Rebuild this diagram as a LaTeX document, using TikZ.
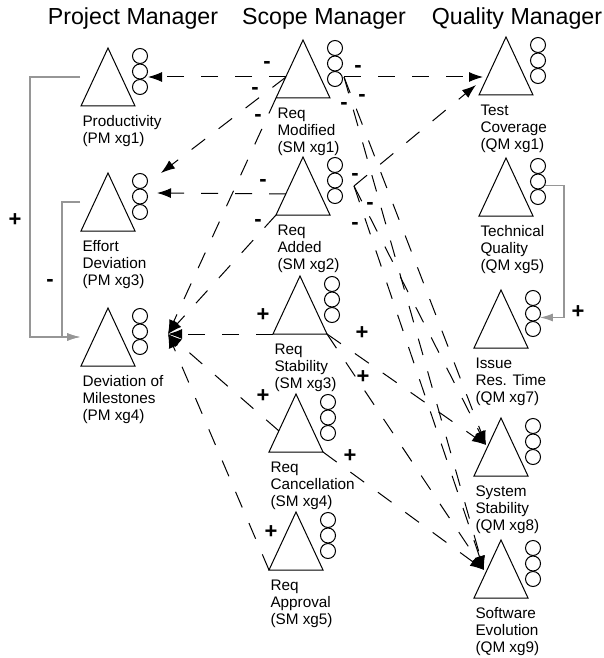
\documentclass[tikz,border=0pt]{standalone}
\usepackage{fontspec}
\setmainfont{Liberation Sans}
\usetikzlibrary{arrows.meta,calc}
\definecolor{fbgray}{RGB}{150,150,150}

\begin{document}
\begin{tikzpicture}[x=0.5pt,y=-0.5pt,line width=0.5pt]
  \tikzset{
    tri/.style={draw,line join=miter},
    res/.style={circle,draw,minimum size=7.5pt,inner sep=0pt},
    lbl/.style={anchor=north west,align=left,inner sep=0pt,
                font=\fontsize{7.65}{8.5}\selectfont},
    hdr/.style={anchor=base,inner sep=0pt,font=\fontsize{11.6}{14}\selectfont},
    sgn/.style={inner sep=0pt,text height=0.6em,text depth=0pt,
                font=\fontsize{11}{13}\selectfont\bfseries},
    dep/.style={-{Latex[length=7pt,width=5pt]},dash pattern=on 8.5pt off 8.5pt},
    fb/.style={-{Latex[length=6.5pt,width=4pt]},draw=fbgray,line width=0.6pt},
    agent/.pic={
      \draw[tri] (0,0) -- (-27,58) -- (27,58) -- cycle;
      \node[res] (-a) at (32,8) {};
      \node[res] (-b) at (32,23.5) {};
      \node[res] (-c) at (32,39) {};
      \node[lbl] (-t) at (-26,67) {\tikzpictext};
      \coordinate (-o) at (0,0);
      \coordinate (-l) at (-17,37);
      \coordinate (-w) at (-28,29);
      \coordinate (-bl) at (-27,58);
      \coordinate (-br) at (27,58);
      \coordinate (-r) at (41,37);
    }
  }
  \useasboundingbox (0,0) rectangle (604,658);

  % column headers
  \node[hdr] (tpm) at (133,25) {Project Manager};
  \node[hdr] (tsm) at (324,25) {Scope Manager};
  \node[hdr] (tqm) at (517,25) {Quality Manager};

  % project manager
  \pic[pic text={Productivity\\(PM xg1)}] (pm1) at (108,48) {agent};
  \pic[pic text={Effort\\Deviation\\(PM xg3)}] (pm3) at (108,173) {agent};
  \pic[pic text={Deviation of\\Milestones\\(PM xg4)}] (pm4) at (108,308) {agent};

  % scope manager
  \pic[pic text={Req\\Modified\\(SM xg1)}] (sm1) at (303,40) {agent};
  \pic[pic text={Req\\Added\\(SM xg2)}] (sm2) at (303,157) {agent};
  \pic[pic text={Req\\Stability\\(SM xg3)}] (sm3) at (300,276) {agent};
  \pic[pic text={Req\\Cancellation\\(SM xg4)}] (sm4) at (296,394) {agent};
  \pic[pic text={Req\\Approval\\(SM xg5)}] (sm5) at (296,512) {agent};

  % quality manager
  \pic[pic text={Test\\Coverage\\(QM xg1)}] (qm1) at (506,37) {agent};
  \pic[pic text={Technical\\Quality\\(QM xg5)}] (qm5) at (506,158) {agent};
  \pic[pic text={Issue\\Res. Time\\(QM xg7)}] (qm7) at (501,290) {agent};
  \pic[pic text={System\\Stability\\(QM xg8)}] (qm8) at (501,418) {agent};
  \pic[pic text={Software\\Evolution\\(QM xg9)}] (qm9) at (501,540) {agent};

  % arrow ends
  \coordinate (pm1in) at ($(pm1-o)+(40,29)$);
  \coordinate (pm3in) at ($(pm3-o)+(49,20)$);
  \coordinate (pm3up) at ($(pm3-o)+(53,0)$);
  \coordinate (pm4in) at ($(pm4-o)+(60,26)$);
  \coordinate (qm1in) at ($(qm1-o)+(-23,40)$);
  \coordinate (qm1lo) at ($(qm1-o)+(-30,48)$);
  \coordinate (qm8in) at ($(qm8-o)+(-15,27)$);
  \coordinate (qm9in) at ($(qm9-o)+(-17,30)$);
  \coordinate (sm2out) at ($(sm2-o)+(51,29)$);

  % influences of the scope manager
  \draw[dep] (sm1-l) -- (pm1in);
  \draw[dep] (sm1-l) -- (pm3up);
  \draw[dep] (sm1-bl) -- (pm4in);
  \draw[dep] (sm1-r) -- (qm1in);
  \draw[dep] (sm1-r) -- (qm8in);
  \draw[dep] (sm1-r) -- (qm9in);

  \draw[dep] (sm2-l) -- (pm3in);
  \draw[dep] (sm2-bl) -- (pm4in);
  \draw[dep] (sm2out) -- (qm1lo);
  \draw[dep] (sm2out) -- (qm8in);
  \draw[dep] (sm2out) -- (qm9in);

  \draw[dep] (sm3-bl) -- (pm4in);
  \draw[dep] (sm3-br) -- (qm8in);
  \draw[dep] (sm3-br) -- (qm9in);

  \draw[dep] (sm4-l) -- (pm4in);
  \draw[dep] (sm4-br) -- (qm9in);

  \draw[dep] (sm5-bl) -- (pm4in);

  % feedback inside a manager
  \draw[fb] (pm1-w) -- ++(-50,0) |- (pm4-w);
  \draw[fb] (pm3-w) -- ++(-18,0) |- (pm4-w);
  \draw[fb] (qm5-b.-30) -- ++(19,0) |- (qm7-b.-30);

  % signs
  \node[sgn] (g1) at (267,63) {-};
  \node[sgn] (g2) at (255,89) {-};
  \node[sgn] (g3) at (258,115) {-};
  \node[sgn] (g4) at (358,67) {-};
  \node[sgn] (g5) at (362,96) {-};
  \node[sgn] (g6) at (344,104) {-};
  \node[sgn] (g7) at (263,180) {-};
  \node[sgn] (g8) at (258,220) {-};
  \node[sgn] (g9) at (355,174) {-};
  \node[sgn] (g10) at (370,203) {-};
  \node[sgn] (g11) at (355,223) {-};
  \node[sgn] (g12) at (263,315) {+};
  \node[sgn] (g13) at (362,333) {+};
  \node[sgn] (g14) at (363,377) {+};
  \node[sgn] (g15) at (263,396) {+};
  \node[sgn] (g16) at (350,456) {+};
  \node[sgn] (g17) at (271,532) {+};
  \node[sgn] (g18) at (15,220) {+};
  \node[sgn] (g19) at (50,280) {-};
  \node[sgn] (g20) at (578,312) {+};
\end{tikzpicture}
\end{document}
